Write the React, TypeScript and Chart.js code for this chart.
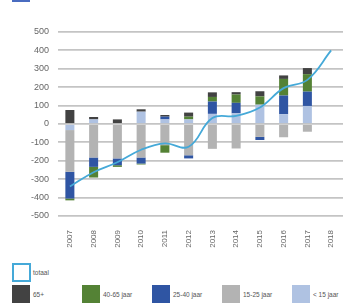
import React, { useEffect, useRef } from "react";
import { Chart, registerables } from "chart.js";

Chart.register(...registerables);

const years = ["2007", "2008", "2009", "2010", "2011", "2012", "2013", "2014", "2015", "2016", "2017", "2018"];
const under15 = [-33, 25, 0, 67, 25, 25, 55, 58, 105, 53, 98, null];
const age1525 = [-227, -182, -187, -182, -115, -170, -135, -133, -70, -72, -42, null];
const age2540 = [-145, -51, -37, -33, 15, -17, 67, 57, -17, 102, 78, null];
const age4065 = [-10, -58, -9, -5, -41, 15, 25, 45, 45, 90, 95, null];
const age65 = [76, 13, 25, 13, 9, 22, 25, 13, 28, 19, 33, null];
const totaal = [-340, -262, -208, -140, -105, -124, 32, 44, 90, 195, 240, 400];
const yTicks = [500, 400, 300, 200, 100, 0, -100, -200, -300, -400, -500];

const C_65 = "#424242";
const C_4065 = "#548235";
const C_2540 = "#2f55a3";
const C_1525 = "#b3b3b3";
const C_U15 = "#afc2e2";
const C_TOT = "#45a9d8";

const legendRow2 = [
  { label: "65+", color: C_65, left: 12 },
  { label: "40-65 jaar", color: C_4065, left: 82 },
  { label: "25-40 jaar", color: C_2540, left: 152 },
  { label: "15-25 jaar", color: C_1525, left: 222 },
  { label: "< 15 jaar", color: C_U15, left: 292 },
];

export default function App() {
  const ref = useRef<HTMLCanvasElement>(null);

  useEffect(() => {
    if (!ref.current) return;
    const barCommon = { stack: "s", barPercentage: 0.38, categoryPercentage: 1 };
    const chart = new Chart(ref.current, {
      type: "bar",
      data: {
        labels: years,
        datasets: [
          {
            type: "line",
            label: "totaal",
            data: totaal,
            stack: "tot",
            borderColor: C_TOT,
            backgroundColor: C_TOT,
            borderWidth: 1.8,
            pointRadius: 0,
            tension: 0.4,
            fill: false,
          } as any,
          { label: "< 15 jaar", data: under15, backgroundColor: C_U15, ...barCommon },
          { label: "15-25 jaar", data: age1525, backgroundColor: C_1525, ...barCommon },
          { label: "25-40 jaar", data: age2540, backgroundColor: C_2540, ...barCommon },
          { label: "40-65 jaar", data: age4065, backgroundColor: C_4065, ...barCommon },
          { label: "65+", data: age65, backgroundColor: C_65, ...barCommon },
        ],
      },
      options: {
        animation: false,
        responsive: false,
        maintainAspectRatio: false,
        layout: { padding: { top: 32, right: 6, left: 0, bottom: 0 } },
        plugins: { legend: { display: false }, tooltip: { enabled: false } },
        scales: {
          x: {
            stacked: true,
            grid: { display: false },
            border: { display: false },
            ticks: {
              minRotation: 90,
              maxRotation: 90,
              padding: 6,
              color: "#666",
              font: { family: "Liberation Sans, Arial, sans-serif", size: 8 },
            },
            afterFit: (s: any) => {
              s.height = 34;
            },
          },
          y: {
            stacked: true,
            min: -500,
            max: 500,
            afterBuildTicks: (s: any) => {
              s.ticks = yTicks.map((v) => ({ value: v }));
            },
            grid: { color: "#c4c4c4", lineWidth: 1.8, drawTicks: false },
            border: { display: false },
            ticks: {
              padding: 9,
              color: "#666",
              font: { family: "Liberation Sans, Arial, sans-serif", size: 9 },
            },
            afterFit: (s: any) => {
              s.width = 58;
            },
          },
        },
      },
    });
    return () => chart.destroy();
  }, []);

  const txt: React.CSSProperties = {
    position: "absolute",
    fontFamily: "Liberation Sans, Arial, sans-serif",
    fontSize: "6.5px",
    color: "#555",
    lineHeight: "8px",
  };

  return (
    <div style={{ position: "fixed", left: 0, top: 0, width: 349, height: 303, background: "#fff", overflow: "hidden" }}>
      <div style={{ position: "absolute", left: 12, top: 0, width: 18, height: 2, background: "#4a6cc0" }} />
      <canvas ref={ref} width={349} height={250} style={{ position: "absolute", left: 0, top: 0, width: 349, height: 250 }} />
      <div
        style={{
          position: "absolute",
          left: 12,
          top: 263,
          width: 15,
          height: 15,
          border: `2px solid ${C_TOT}`,
          background: "#fff",
        }}
      />
      <div style={{ ...txt, left: 33, top: 269 }}>totaal</div>
      {legendRow2.map((it) => (
        <React.Fragment key={it.label}>
          <div style={{ position: "absolute", left: it.left, top: 285, width: 18, height: 18, background: it.color }} />
          <div style={{ ...txt, left: it.left + 21, top: 291 }}>{it.label}</div>
        </React.Fragment>
      ))}
    </div>
  );
}
